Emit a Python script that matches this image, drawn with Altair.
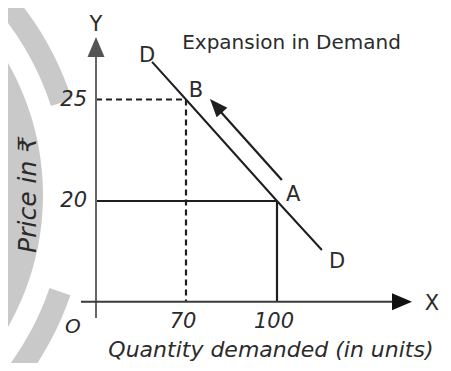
import altair as alt
import pandas as pd

# ---------------- data ----------------
# demand curve D-D : quantity, price
demand_q = [43.6, 70, 100, 114.8]
demand_p = [26.85, 25, 20, 10.27]

# solid guide lines (point A) : x, y, x2, y2
solid_x = [0, 100]
solid_y = [20, 20]
solid_x2 = [100, 100]
solid_y2 = [20, 0]

# dashed guide lines (point B)
dash_x = [0, 70]
dash_y = [25, 25]
dash_x2 = [70, 70]
dash_y2 = [25, 0]

# axes lines
axis_x = [0, -11.7]
axis_y = [-3.24, 0]
axis_x2 = [0, 140.5]
axis_y2 = [27.5, 0]

# arrow heads of the axes (tip positions)
yarrow_tip = (0, 28.08)
xarrow_tip = (144.5, 0)

# movement arrow A -> B
move_x = [101.6, 80.9]
move_y = [21.03, 24.48]
move_tip = (77.9, 25.02)

# point letters
letters = ["D", "B", "A", "D", "Y", "X"]
letter_x = [39.7, 73.3, 105.3, 119.8, 0, 151.1]
letter_y = [26.85, 25.12, 20.0, 6.69, 28.39, -1.65]

# tick labels
xtick_vals = [70, 100]
xtick_labels = ["70", "100"]
ytick_vals = [25, 20]
ytick_labels = ["25", "20"]

# ---------------- scales ----------------
xs = alt.Scale(domain=[0, 70, 100], range=[88, 178, 269], nice=False, zero=False)
ys = alt.Scale(domain=[0, 20, 25], range=[293.7, 193, 91.5], nice=False, zero=False)

FONT = "DejaVu Sans"
INK = "#1e1e1e"
TXT = "#2b2b2b"
GRAY_WM = "#c9c9c9"

one = pd.DataFrame({"a": [0]})

# ---------------- watermark ----------------
wm_disc = alt.Chart(one).mark_arc(color=GRAY_WM).encode(
    x=alt.value(-231), y=alt.value(187),
    radius=alt.value(266), theta=alt.value(0), theta2=alt.value(6.2832),
)
wm_ring_top = alt.Chart(one).mark_arc(color=GRAY_WM).encode(
    x=alt.value(-231), y=alt.value(187),
    radius=alt.value(310), radius2=alt.value(288),
    theta=alt.value(0), theta2=alt.value(1.257),
)
wm_ring_bot = alt.Chart(one).mark_arc(color=GRAY_WM).encode(
    x=alt.value(-231), y=alt.value(187),
    radius=alt.value(310), radius2=alt.value(288),
    theta=alt.value(1.90), theta2=alt.value(3.1416),
)

def X(f):
    return alt.X(f, type="quantitative", scale=xs, axis=None)

def Y(f):
    return alt.Y(f, type="quantitative", scale=ys, axis=None)

# ---------------- axes ----------------
axes_df = pd.DataFrame({"x": axis_x, "y": axis_y, "x2": axis_x2, "y2": axis_y2,
                        "c": ["#666666", "#3a3a3a"]})
axes = alt.Chart(axes_df).mark_rule(strokeWidth=2).encode(
    x=X("x"), y=Y("y"), x2="x2", y2="y2",
    color=alt.Color("c:N", scale=None),
)

yhead = alt.Chart(pd.DataFrame({"x": [yarrow_tip[0]], "y": [yarrow_tip[1]]})).mark_point(
    shape="M0,0L0.85,2L-0.85,2Z", size=400, filled=True, opacity=1, color="#555555"
).encode(x=X("x"), y=Y("y"))
xhead = alt.Chart(pd.DataFrame({"x": [xarrow_tip[0]], "y": [xarrow_tip[1]]})).mark_point(
    shape="M0,0L-2,-0.85L-2,0.85Z", size=400, filled=True, opacity=1, color="#111111"
).encode(x=X("x"), y=Y("y"))

# ---------------- guides ----------------
solid = alt.Chart(pd.DataFrame({"x": solid_x, "y": solid_y, "x2": solid_x2, "y2": solid_y2})).mark_rule(
    strokeWidth=2.2, color=INK).encode(x=X("x"), y=Y("y"), x2="x2", y2="y2")
dashed = alt.Chart(pd.DataFrame({"x": dash_x, "y": dash_y, "x2": dash_x2, "y2": dash_y2})).mark_rule(
    strokeWidth=2.2, color=INK, strokeDash=[6, 4]).encode(x=X("x"), y=Y("y"), x2="x2", y2="y2")

# ---------------- demand curve ----------------
demand = alt.Chart(pd.DataFrame({"q": demand_q, "p": demand_p})).mark_line(
    strokeWidth=2, color=INK).encode(x=X("q"), y=Y("p"))

# ---------------- movement arrow ----------------
shaft = alt.Chart(pd.DataFrame({"x": [move_x[0]], "y": [move_y[0]], "x2": [move_x[1]], "y2": [move_y[1]]})).mark_rule(
    strokeWidth=2.2, color=INK).encode(x=X("x"), y=Y("y"), x2="x2", y2="y2")
mhead = alt.Chart(pd.DataFrame({"x": [move_tip[0]], "y": [move_tip[1]]})).mark_point(
    shape="M0,0L0.8,2L-0.8,2Z", size=324, filled=True, opacity=1, color=INK, angle=318
).encode(x=X("x"), y=Y("y"))

# ---------------- text ----------------
let_txt = alt.Chart(pd.DataFrame({"x": letter_x, "y": letter_y, "t": letters})).mark_text(
    font=FONT, fontSize=21, color=TXT, align="center", baseline="alphabetic").encode(
    x=X("x"), y=Y("y"), text="t:N")

o_txt = alt.Chart(pd.DataFrame({"x": [-17.9], "y": [-6.2], "t": ["O"]})).mark_text(
    font=FONT, fontSize=20, fontStyle="italic", color=TXT, align="center", baseline="alphabetic").encode(
    x=X("x"), y=Y("y"), text="t:N")

xt = alt.Chart(pd.DataFrame({"x": xtick_vals, "y": [-5.2, -5.2], "t": xtick_labels})).mark_text(
    font=FONT, fontSize=21, fontStyle="italic", color=TXT, align="center", baseline="alphabetic", dx=-3).encode(
    x=X("x"), y=Y("y"), text="t:N")

yt = alt.Chart(pd.DataFrame({"x": [0, 0], "y": ytick_vals, "t": ytick_labels})).mark_text(
    font=FONT, fontSize=21, fontStyle="italic", color=TXT, align="right", baseline="middle", dx=-9).encode(
    x=X("x"), y=Y("y"), text="t:N")

title = alt.Chart(pd.DataFrame({"x": [104.8], "y": [27.49], "t": ["Expansion in Demand"]})).mark_text(
    font=FONT, fontSize=20, color=TXT, align="center", baseline="alphabetic").encode(
    x=X("x"), y=Y("y"), text="t:N")

xtitle = alt.Chart(pd.DataFrame({"x": [98.0], "y": [-9.59], "t": ["Quantity demanded (in units)"]})).mark_text(
    font=FONT, fontSize=22, fontStyle="italic", color=TXT, align="center", baseline="middle").encode(
    x=X("x"), y=Y("y"), text="t:N")

ytitle = alt.Chart(pd.DataFrame({"x": [-52.9], "y": [20.3], "t": ["Price in ₹"]})).mark_text(
    font=FONT, fontSize=25, fontStyle="italic", color=TXT, align="center", baseline="middle", angle=270).encode(
    x=X("x"), y=Y("y"), text="t:N")

chart = alt.layer(
    wm_disc, wm_ring_top, wm_ring_bot,
    solid, dashed, axes, yhead, xhead, demand, shaft, mhead,
    let_txt, o_txt, xt, yt, title, xtitle, ytitle,
).properties(
    width=435, height=355, padding=0, autosize=alt.AutoSizeParams(type="none"),
    background="white",
).configure_view(stroke=None)

chart.save("out.html", embed_options={"renderer": "svg", "actions": False})
